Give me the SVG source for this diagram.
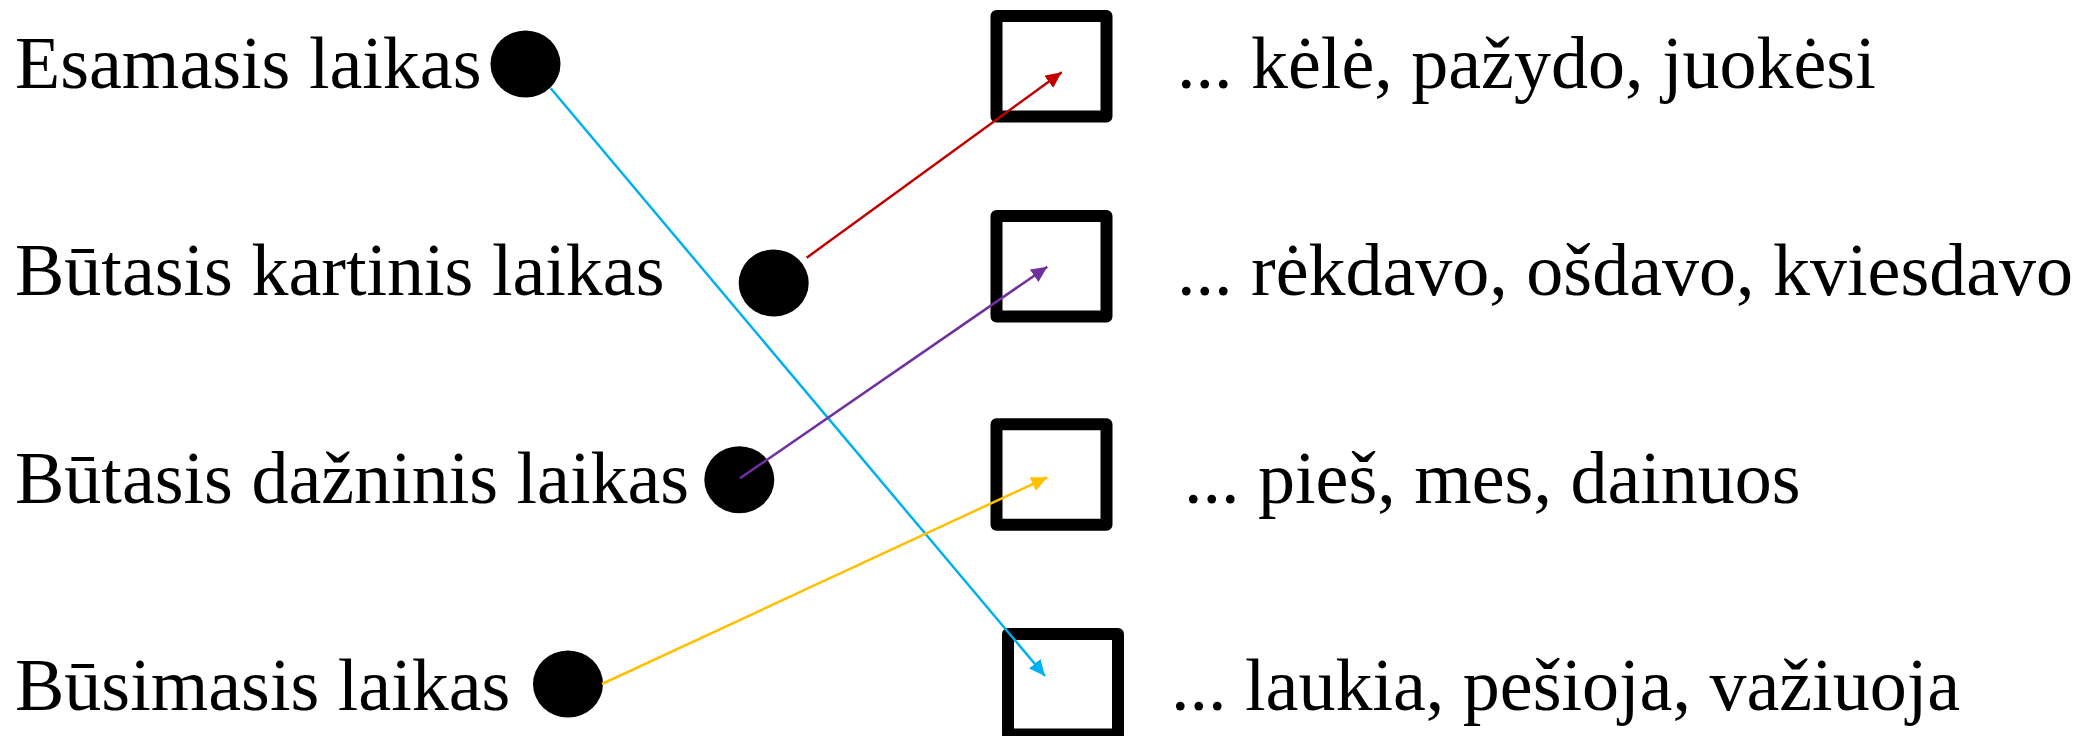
<svg xmlns="http://www.w3.org/2000/svg" width="2081" height="736" viewBox="0 0 2081 736">
<style>
.lbl{font-family:"Liberation Serif","Times New Roman",serif;font-size:74px;fill:#000}
.dot{fill:#000}
.box{fill:none;stroke:#000;stroke-width:12;stroke-linejoin:round}
.con{fill:none;stroke-width:2.5}
</style>
<defs>
<marker id="ah-red" viewBox="0 0 16 15" refX="16" refY="7.5" markerWidth="16" markerHeight="15" markerUnits="userSpaceOnUse" orient="auto"><path d="M0,0 L16,7.5 L0,15 z" fill="#C00000"/></marker>
<marker id="ah-purple" viewBox="0 0 16 15" refX="16" refY="7.5" markerWidth="16" markerHeight="15" markerUnits="userSpaceOnUse" orient="auto"><path d="M0,0 L16,7.5 L0,15 z" fill="#7030A0"/></marker>
<marker id="ah-yellow" viewBox="0 0 16 15" refX="16" refY="7.5" markerWidth="16" markerHeight="15" markerUnits="userSpaceOnUse" orient="auto"><path d="M0,0 L16,7.5 L0,15 z" fill="#FFC000"/></marker>
<marker id="ah-blue" viewBox="0 0 16 15" refX="16" refY="7.5" markerWidth="16" markerHeight="15" markerUnits="userSpaceOnUse" orient="auto"><path d="M0,0 L16,7.5 L0,15 z" fill="#00B0F0"/></marker>
</defs>
<rect width="2081" height="736" fill="#fff"/>
<g id="left-esamasis">
<text class="lbl" x="15" y="88">Esamasis laikas</text>
<ellipse class="dot" cx="525.5" cy="64" rx="35" ry="33.5"/>
</g>
<g id="left-butasis-kartinis">
<text class="lbl" x="15" y="295">Būtasis kartinis laikas</text>
<ellipse class="dot" cx="773.7" cy="283" rx="35" ry="33.5"/>
</g>
<g id="left-butasis-dazninis">
<text class="lbl" x="15" y="502.5">Būtasis dažninis laikas</text>
<ellipse class="dot" cx="739.3" cy="479.7" rx="35" ry="33.5"/>
</g>
<g id="left-busimasis">
<text class="lbl" x="15" y="710">Būsimasis laikas</text>
<ellipse class="dot" cx="568" cy="684" rx="35" ry="33.5"/>
</g>
<g id="right-1">
<rect class="box" x="996.5" y="16" width="110" height="100.5"/>
<text class="lbl" x="1177" y="87.5">... kėlė, pažydo, juokėsi</text>
</g>
<g id="right-2">
<rect class="box" x="996.5" y="216" width="110" height="100.5"/>
<text class="lbl" x="1177" y="295">... rėkdavo, ošdavo, kviesdavo</text>
</g>
<g id="right-3">
<rect class="box" x="996.5" y="424.3" width="110" height="100.5"/>
<text class="lbl" x="1184" y="502.5">... pieš, mes, dainuos</text>
</g>
<g id="right-4">
<rect class="box" x="1008" y="634" width="110" height="100.5"/>
<text class="lbl" x="1171" y="710">... laukia, pešioja, važiuoja</text>
</g>
<g id="connectors">
<line class="con" x1="550.7" y1="88.3" x2="1045" y2="676" stroke="#00B0F0" marker-end="url(#ah-blue)"/>
<line class="con" x1="806.7" y1="257.7" x2="1061.7" y2="72.3" stroke="#C00000" marker-end="url(#ah-red)"/>
<line class="con" x1="740" y1="478.3" x2="1047.3" y2="266.7" stroke="#7030A0" marker-end="url(#ah-purple)"/>
<line class="con" x1="601.9" y1="684" x2="1047.3" y2="477.3" stroke="#FFC000" marker-end="url(#ah-yellow)"/>
</g>
</svg>
